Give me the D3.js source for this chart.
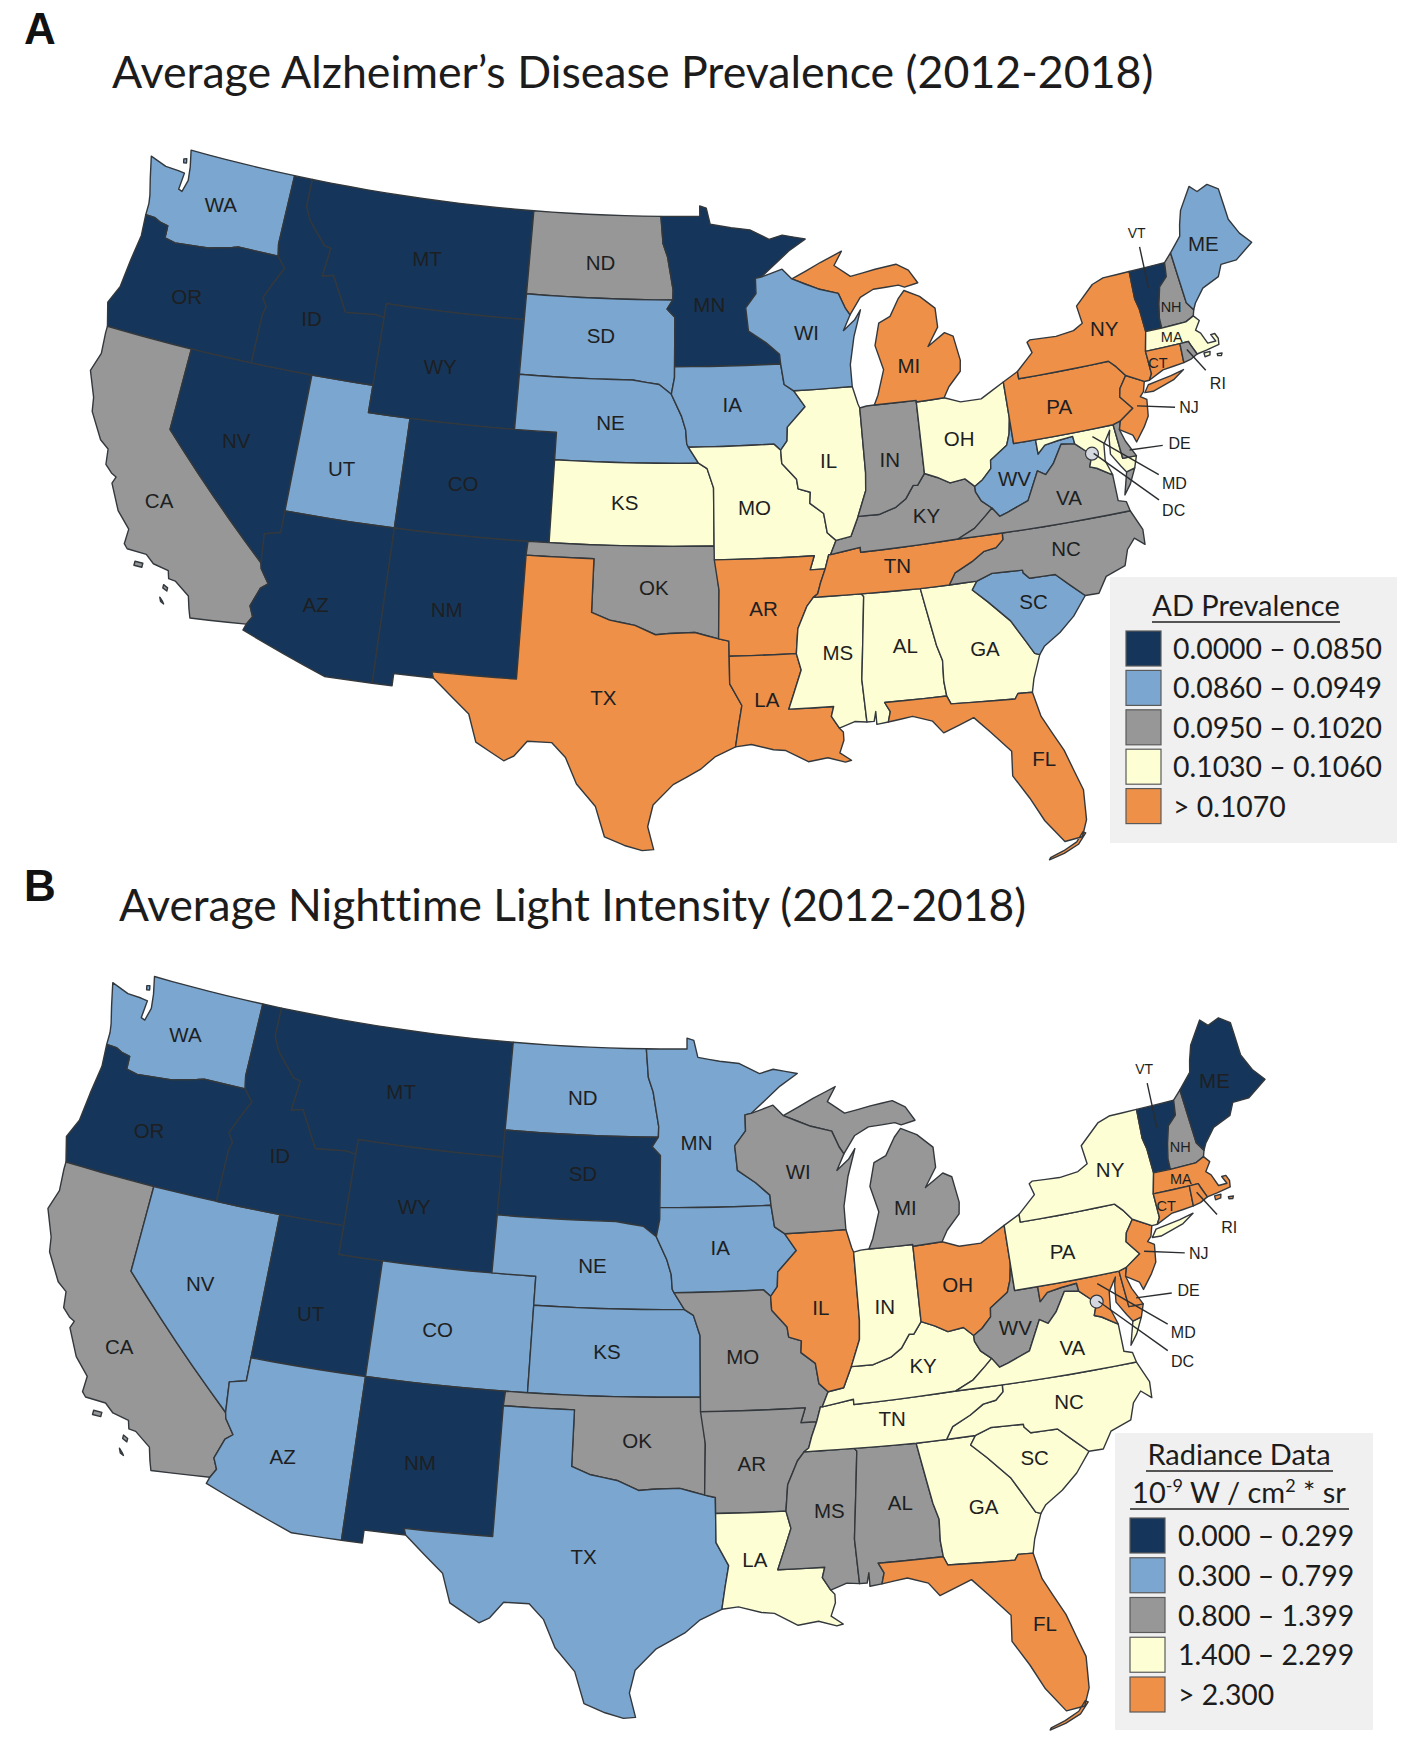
<!DOCTYPE html>
<html><head><meta charset="utf-8">
<script src="https://cdn.jsdelivr.net/npm/d3@7"></script>
<style>html,body{margin:0;padding:0;background:#fff}svg{display:block}text{font-variant-ligatures:none}</style>
</head><body><svg id="c" width="1410" height="1740"></svg>
<script>
// ---- categories / class values ----
const classColors = ["#15365a","#7ba6cf","#979797","#fefed5","#ee9048"];
const classA = {OR:0,ID:0,MT:0,WY:0,CO:0,NV:0,AZ:0,NM:0,MN:0,VT:0,
  WA:1,SD:1,NE:1,UT:1,IA:1,WI:1,ME:1,WV:1,SC:1,
  CA:2,ND:2,OK:2,IN:2,KY:2,VA:2,NC:2,NH:2,DE:2,RI:2,
  KS:3,MO:3,IL:3,OH:3,MS:3,AL:3,GA:3,MA:3,MD:3,
  TX:4,AR:4,LA:4,TN:4,FL:4,MI:4,NY:4,PA:4,NJ:4,CT:4};
const classB = {OR:0,ID:0,MT:0,WY:0,SD:0,UT:0,NM:0,VT:0,ME:0,
  WA:1,ND:1,MN:1,NE:1,IA:1,CO:1,KS:1,NV:1,AZ:1,TX:1,
  CA:2,WI:2,MI:2,MO:2,OK:2,AR:2,MS:2,AL:2,WV:2,NH:2,
  LA:3,IN:3,KY:3,TN:3,GA:3,SC:3,NC:3,VA:3,NY:3,PA:3,
  IL:4,OH:4,FL:4,NJ:4,MD:4,DE:4,MA:4,CT:4,RI:4};
const legendA = ["0.0000 – 0.0850","0.0860 – 0.0949","0.0950 – 0.1020","0.1030 – 0.1060","> 0.1070"];
const legendB = ["0.000 – 0.299","0.300 – 0.799","0.800 – 1.399","1.400 – 2.299","> 2.300"];

// ---- shared borders (lon,lat) ----
const A = {
 columbia:[[-116.92,45.99],[-118.98,46],[-119.3,45.93],[-120.5,45.7],[-121.2,45.65],[-122.2,45.57],[-122.76,45.65],[-122.8,46.1],[-123.2,46.15],[-123.55,46.26],[-124.05,46.27]],
 snake:[[-116.92,45.99],[-116.46,45.6],[-116.85,45],[-117.2,44.4],[-116.93,44.1],[-117.03,43.8],[-117.03,42]],
 bitter:[[-116.05,49],[-116.05,48],[-115.7,47.5],[-114.7,46.7],[-114.35,46.65],[-114.5,45.6],[-113.95,45.7],[-113.45,45.05],[-113,44.45],[-111.5,44.55],[-111.05,44.48]],
 coNV:[[-114.04,36.2],[-114.74,36.05],[-114.63,35]],
 coCA:[[-114.63,35],[-114.57,34.8],[-114.14,34.3],[-114.43,34.1],[-114.72,33.4],[-114.52,33.03],[-114.72,32.72]],
 red:[[-100,34.56],[-99.2,34.3],[-98.1,34.13],[-97.2,33.8],[-96.6,33.85],[-95.5,33.88],[-94.48,33.64]],
 redN:[[-97.23,49],[-97.1,48],[-96.85,47.5],[-96.55,46.3],[-96.56,45.93]],
 sdMN:[[-96.56,45.93],[-96.85,45.6],[-96.45,45.3],[-96.45,43.5]],
 moUp:[[-98.5,43],[-97.2,42.85],[-96.6,42.5]],
 iaSD:[[-96.45,43.5],[-96.45,43.1],[-96.6,42.5]],
 moNE:[[-96.6,42.5],[-96.1,41.7],[-95.9,41.2],[-95.85,40.7],[-95.77,40.58]],
 neMO:[[-95.77,40.58],[-95.3,40]],
 ksMO:[[-95.3,40],[-94.9,39.8],[-94.61,39.1],[-94.62,37]],
 mnWI:[[-92.3,46.66],[-92.3,46.1],[-92.85,45.6],[-92.75,44.75],[-91.9,44.3],[-91.25,43.85],[-91.22,43.5]],
 wiIA:[[-91.22,43.5],[-91.1,42.75],[-90.65,42.5]],
 ilIA:[[-90.65,42.5],[-90.15,41.9],[-91.05,41.2],[-91.1,40.7],[-91.42,40.38]],
 ilMO:[[-91.42,40.38],[-91.4,39.9],[-90.75,39.3],[-90.7,38.95],[-90.15,38.8],[-90.2,38.4],[-89.6,38],[-89.5,37.3],[-89.13,37]],
 kyMO:[[-89.13,37],[-89.42,36.5]],
 tnMO:[[-89.42,36.5],[-89.5,36.5],[-89.7,36]],
 tnAR:[[-89.7,36],[-89.95,35.5],[-90.1,35.12],[-90.3,35]],
 msAR:[[-90.3,35],[-90.6,34.7],[-91.05,33.9],[-91.17,33]],
 msLA:[[-91.17,33],[-91,32.4],[-91.6,31],[-89.73,31],[-89.85,30.65],[-89.55,30.2]],
 arMO:[[-90.15,36.5],[-90.37,36],[-89.7,36]],
 msAL:[[-88.2,35],[-88.1,34.9],[-88.47,31.9],[-88.4,30.35]],
 alGA:[[-85.6,34.98],[-85.18,32.87],[-85,32.3],[-85.05,31.55],[-85,31]],
 alFL:[[-85,31],[-87.6,31],[-87.4,30.65],[-87.52,30.28]],
 gaFL:[[-85,31],[-84.86,30.7],[-82.2,30.57],[-82.05,30.75],[-81.45,30.72]],
 sav:[[-83.1,35],[-83.35,34.7],[-82.75,34.2],[-81.9,33.4],[-81.4,32.6],[-81.1,32.1],[-80.9,32.03]],
 ncSC:[[-83.1,35],[-82.4,35.2],[-81.05,35.15],[-81.04,35.05],[-80.8,34.82],[-79.67,34.8],[-78.55,33.86]],
 ncTN:[[-84.32,34.99],[-84,35.4],[-83.2,35.72],[-82.6,36.03],[-82.05,36.1],[-81.7,36.35],[-81.68,36.59]],
 ohKY:[[-82.6,38.4],[-83,38.72],[-83.7,38.65],[-84.25,38.9],[-84.82,39.1]],
 inKY:[[-84.82,39.1],[-85.2,38.7],[-85.4,38.72],[-85.8,38.27],[-86.3,38],[-87.1,37.8],[-88.05,37.8]],
 ilKY:[[-88.05,37.8],[-88.45,37.1],[-89.13,37]],
 ilIN:[[-87.53,41.7],[-87.53,39.35],[-87.6,38.7],[-88.05,37.8]],
 vaKY:[[-83.68,36.6],[-82.88,36.9],[-82.3,37.3],[-81.97,37.54]],
 wvKY:[[-81.97,37.54],[-82.4,37.85],[-82.6,38.2],[-82.6,38.4]],
 wvOH:[[-82.6,38.4],[-82.2,38.6],[-81.75,38.95],[-81.7,39.25],[-80.85,39.7],[-80.65,40.1],[-80.52,40.64]],
 wvVA:[[-81.97,37.54],[-81.68,37.2],[-81.3,37.3],[-80.3,37.6],[-79.65,38.6],[-79.3,38.42],[-78.87,38.76],[-78.35,39.4],[-77.72,39.32]],
 wvMD:[[-79.48,39.72],[-79.48,39.2],[-79.1,39.47],[-78.45,39.55],[-77.75,39.6],[-77.72,39.32]],
 vaMD:[[-77.72,39.32],[-77.3,39],[-77.05,38.8],[-77.25,38.4],[-76.95,38.3],[-76.3,37.95]],
 paNJ:[[-74.7,41.36],[-75.1,40.95],[-75.2,40.65],[-74.72,40.15],[-75.42,39.8]],
 nyPA:[[-79.76,42.27],[-79.76,42],[-75.35,42],[-75.05,41.75],[-74.7,41.36]],
 vtNY:[[-73.26,42.75],[-73.3,43.6],[-73.4,44],[-73.34,45.01]],
 vtNH:[[-71.5,45.01],[-71.6,44.5],[-72.05,44.2],[-72.3,43.6],[-72.45,43.1],[-72.46,42.73]],
 wiMI:[[-90.42,46.57],[-89.1,46.14],[-88.1,45.92],[-87.8,45.35],[-87.6,45.1]],
 deMD:[[-75.79,39.72],[-75.69,38.46],[-75.05,38.45]]
};
// ---- state outlines: shared border names ("-" reversed) and coast points ----
const states = {
 WA:[[[-124.7,48.38],[-123.8,48.17],[-123.1,48.15],[-122.75,48.12],[-122.8,47.5],[-122.6,47.45],[-122.45,47.9],[-122.55,48.4],[-122.76,49],[-117.03,49],[-117.04,46.42]],"columbia",[[-124.07,46.7],[-124.15,47],[-124.4,47.6]]],
 OR:["columbia",[[-123.95,45.5],[-124.1,44.5],[-124.2,43.5],[-124.55,42.84],[-124.21,42]],"-snake"],
 CA:[[[-124.21,42],[-120,42],[-120,39]],"coCA",[[-117.12,32.53],[-117.25,32.85],[-117.4,33.3],[-118.1,33.72],[-118.4,33.75],[-118.5,34.03],[-119.2,34.15],[-119.6,34.42],[-120.47,34.45],[-120.65,34.6],[-120.63,35.15],[-121.3,35.7],[-121.9,36.6],[-121.8,36.85],[-122.05,36.95],[-122.4,37.2],[-122.5,37.75],[-122.95,38],[-123.7,38.9],[-123.83,39.4],[-124.35,40.3],[-124.1,41],[-124.2,41.75]]],
 NV:[[[-120,42],[-114.04,42]],"coNV",[[-120,39]]],
 UT:[[[-114.04,42],[-111.05,42],[-111.05,41],[-109.05,41],[-109.05,37],[-114.04,37]]],
 AZ:[[[-114.04,37],[-109.05,37],[-109.05,31.33],[-111.07,31.33],[-114.81,32.49]],"-coCA","-coNV"],
 ID:[[[-117.03,49]],"bitter",[[-111.05,42]],"-snake",[[-117.04,46.42]]],
 MT:[[[-116.05,49],[-104.05,49],[-104.05,45],[-111.05,45]],"-bitter"],
 WY:[[[-111.05,45],[-104.05,45],[-104.05,41],[-111.05,41]]],
 CO:[[[-109.05,41],[-102.05,41],[-102.05,37],[-109.05,37]]],
 NM:[[[-109.05,37],[-103,37],[-103.04,36.5],[-103.04,32],[-106.62,32],[-106.53,31.78],[-108.21,31.78],[-108.21,31.33],[-109.05,31.33]]],
 ND:[[[-104.05,49]],"redN",[[-104.05,45.94]]],
 SD:[[[-104.05,45.94]],"sdMN","iaSD","-moUp",[[-104.05,43]]],
 NE:[[[-104.05,43]],"moUp","moNE","neMO",[[-102.05,40],[-102.05,41],[-104.05,41]]],
 KS:[[[-102.05,40]],"ksMO",[[-102.05,37]]],
 OK:[[[-103,37],[-94.62,37],[-94.43,35.4]],"-red",[[-100,36.5],[-103.04,36.5]]],
 TX:[[[-103.04,36.5],[-100,36.5]],"red",[[-94.04,33.55],[-94.04,32],[-93.55,31.2],[-93.7,30.5],[-93.85,29.7],[-94.7,29.35],[-95.3,28.9],[-96.4,28.35],[-97.2,27.6],[-97.4,26.8],[-97.15,25.96],[-97.6,25.92],[-98.3,26.1],[-99.1,26.4],[-99.5,27.5],[-100.3,28.3],[-100.8,29.25],[-101.4,29.77],[-102.4,29.77],[-102.9,29.2],[-103.3,29],[-104.5,29.6],[-104.9,30.6],[-106.53,31.78],[-106.62,32],[-103.04,32]]],
 MN:[[[-97.23,49],[-95.15,49],[-95.15,49.38],[-94.8,49.3],[-94.6,48.7],[-93.5,48.55],[-92.5,48.45],[-91.5,48.07],[-90.8,48.2],[-89.6,48],[-90.5,47.6],[-92,46.7]],"mnWI",[[-96.45,43.5]],"-sdMN","-redN"],
 IA:[[[-96.45,43.5],[-91.22,43.5]],"wiIA","ilIA",[[-91.73,40.61],[-95.77,40.58]],"-moNE",[[-96.45,43.1]]],
 MO:[[[-95.77,40.58],[-91.73,40.61]],"ilMO","kyMO","tnMO","-arMO",[[-94.62,36.5]],"-ksMO","-neMO"],
 AR:[[[-94.62,36.5]],"arMO","tnAR","msAR",[[-94.04,33],[-94.04,33.55],[-94.48,33.64],[-94.43,35.4]]],
 LA:[[[-94.04,33]],"msLA",[[-89.4,30.05],[-89.4,29.75],[-89.6,29.3],[-89.15,29],[-89.4,28.95],[-90.1,29.15],[-90.9,29.05],[-91.8,29.5],[-92.3,29.55],[-93.2,29.77],[-93.85,29.7],[-93.7,30.5],[-93.55,31.2],[-94.04,32]]],
 MS:[[[-90.3,35]],"msAL",[[-88.9,30.4]],"-msLA","-msAR"],
 AL:[[[-88.2,35]],"alGA","alFL",[[-88,30.23],[-88,30.7],[-88.1,30.35]],"-msAL"],
 GA:[[[-85.6,34.98]],"sav",[[-81.3,31.2]],"-gaFL","-alGA"],
 FL:["-alFL","gaFL",[[-81.25,29.8],[-80.55,28.45],[-80.05,26.9],[-80.13,25.8],[-80.4,25.2],[-81.1,25.13],[-81.75,26],[-82.2,26.9],[-82.75,27.8],[-82.65,28.7],[-83.4,29.5],[-84,30.1],[-85.3,29.68],[-85.7,30.15],[-86.5,30.4]]],
 SC:["ncSC",[[-79.2,33.2],[-79.9,32.7],[-80.65,32.3]],"-sav"],
 NC:["ncTN",[[-75.87,36.55],[-75.5,35.8],[-75.55,35.25],[-75.95,35.55],[-76.35,35.2],[-76.6,34.65],[-77.5,34.4],[-77.95,33.85]],"-ncSC"],
 TN:[[[-90.3,35],[-88.2,35],[-85.6,34.98]],"ncTN",[[-83.68,36.6],[-88.07,36.5],[-88.07,36.68]],"tnMO","tnAR"],
 KY:[[[-89.42,36.5],[-88.07,36.68],[-88.07,36.5]],"vaKY","wvKY","ohKY","inKY","ilKY","kyMO"],
 IL:[[[-90.65,42.5],[-87.8,42.5],[-87.6,41.85]],"ilIN","ilKY","-ilMO","-ilIA"],
 IN:[[[-87.53,41.7],[-87.2,41.75],[-86.82,41.76],[-84.8,41.76],[-84.8,41.7],[-84.82,39.1]],"inKY","-ilIN"],
 OH:[[[-84.8,41.7],[-83.45,41.73],[-82.7,41.5],[-81.7,41.5],[-80.52,41.98]],"-wvOH","ohKY"],
 WV:["wvKY","wvOH",[[-80.52,39.72]],"wvMD","-wvVA"],
 VA:[[[-83.68,36.6],[-81.68,36.59],[-75.87,36.55],[-75.95,36.9],[-76.3,37],[-76.3,37.5]],"-vaMD","-wvVA","-vaKY"],
 MD:[[[-79.48,39.72]],"deMD",[[-75.25,38.03],[-75.65,37.95],[-75.85,38.2],[-76.2,38.7],[-76.1,39.3],[-76,39.55],[-76.4,39.1],[-76.5,38.5],[-76.35,38.1]],"-vaMD","-wvMD"],
 DE:[[[-75.79,39.72],[-75.42,39.8],[-75.55,39.5],[-75.4,39.05],[-75.05,38.45],[-75.69,38.46]]],
 PA:[[[-80.52,41.98]],"nyPA","paNJ",[[-75.79,39.72],[-80.52,39.72]]],
 NJ:["paNJ",[[-75.55,39.5],[-75,39.2],[-74.9,38.93],[-74.4,39.4],[-74.1,39.75],[-73.98,40.35],[-74.25,40.5],[-74.05,40.65],[-73.9,41]]],
 NY:["nyPA",[[-73.9,41],[-73.65,41],[-73.48,41.21],[-73.5,42.05]],"vtNY",[[-74.7,45],[-75.3,44.85],[-76.3,44.2],[-76.2,43.55],[-76.7,43.35],[-77.6,43.27],[-78.9,43.32],[-79.05,43.25],[-78.9,42.85]]],
 VT:["vtNY",[[-71.5,45.01]],"vtNH"],
 NH:["vtNH",[[-71.25,42.73],[-70.82,42.87],[-70.72,43.08],[-70.98,43.4],[-71.08,45.3]]],
 ME:[[[-71.08,45.3],[-70.4,45.8],[-70.25,46.2],[-70,46.7],[-69.23,47.46],[-68.9,47.2],[-68.3,47.35],[-67.8,47.07],[-67.78,45.9],[-67.45,45.3],[-67,44.85],[-68,44.4],[-68.8,44.4],[-69.1,44],[-70,43.75],[-70.55,43.3],[-70.72,43.08],[-70.98,43.4]]],
 MA:[[[-73.5,42.05],[-71.8,42.02],[-71.38,42.02],[-71.33,41.9],[-71.13,41.5],[-70.65,41.55],[-70,41.63],[-69.95,41.85],[-70.05,42.05],[-70.25,42.05],[-70.1,41.78],[-70.5,41.78],[-70.7,42.2],[-70.9,42.35],[-70.6,42.65],[-70.82,42.87],[-71.25,42.73],[-72.46,42.73],[-73.26,42.75]]],
 CT:[[[-73.5,42.05],[-71.8,42.02],[-71.85,41.32],[-72.9,41.25],[-73.65,41],[-73.48,41.21]]],
 RI:[[[-71.8,42.02],[-71.38,42.02],[-71.33,41.9],[-71.13,41.5],[-71.5,41.37],[-71.85,41.32]]],
 MI:[[[-86.82,41.76],[-84.8,41.76],[-84.8,41.7],[-83.45,41.73],[-83.15,42.1],[-82.5,42.6],[-82.42,43],[-82.6,43.9],[-83,44.07],[-83.9,43.65],[-83.3,44.3],[-83.3,45],[-84,45.5],[-84.75,45.78],[-85.1,45.5],[-85.6,44.9],[-86.2,44.7],[-86.5,43.9],[-86.2,43],[-86.6,42.1]]],
 WI:[[[-92.3,46.66],[-92,46.7],[-90.9,46.95]],"wiMI",[[-88,44.55],[-87.4,44.9],[-87.05,45.25],[-87.5,44.3],[-87.8,43.3],[-87.8,42.5]],"-wiIA","-mnWI"]
};
// extra rings (islands, upper Michigan, Long Island, Virginia's eastern shore)
const extraRings = {
 MI:[[[-90.42,46.57],[-89.1,46.14],[-88.1,45.92],[-87.8,45.35],[-87.6,45.1],[-87,45.7],[-86.3,45.95],[-85,46],[-84.7,45.9],[-84,46],[-84.4,46.5],[-85,46.77],[-86.1,46.67],[-87.4,46.5],[-88.2,46.95],[-87.75,47.45],[-88.9,47.1]]],
 NY:[[[-74,40.6],[-73.75,40.85],[-72.6,40.98],[-71.95,41.08],[-72.5,40.82],[-73.6,40.58]]],
 VA:[[[-75.95,37.15],[-75.65,37.95],[-75.25,38.03],[-75.6,37.5]]],
 CA:[[[-120,34.08],[-119.65,34.08],[-119.65,33.93],[-120,33.93]],[[-118.55,33.5],[-118.35,33.42],[-118.35,33.3],[-118.55,33.38]],[[-118.58,33.03],[-118.42,32.9],[-118.35,32.82],[-118.5,32.88]]],
 MA:[[[-70.8,41.47],[-70.5,41.47],[-70.55,41.35],[-70.8,41.33]],[[-70.2,41.32],[-69.97,41.3],[-70.03,41.22],[-70.2,41.25]]],
 FL:[[[-80.25,25.32],[-80.6,24.95],[-81.2,24.7],[-81.8,24.55],[-81.75,24.62],[-81.2,24.8],[-80.65,25.05],[-80.35,25.38]]],
 WA:[[[-123.0,48.62],[-122.85,48.65],[-122.8,48.5],[-122.95,48.48]]]
};
// label anchors in lon,lat
const labelAt = {WA:[-120.45,47.35],OR:[-120.9,43.8],CA:[-119.65,36.4],NV:[-116.9,39.15],ID:[-114.6,44],MT:[-109.35,46.85],WY:[-107.95,43],UT:[-111.85,38.85],CO:[-106.2,38.9],AZ:[-111.95,33.85],NM:[-106.3,34.3],ND:[-100.35,47.25],SD:[-100.15,44.6],NE:[-99.5,41.45],KS:[-98.7,38.55],OK:[-97.3,35.5],TX:[-99.35,31.5],MN:[-94.7,45.75],IA:[-93.65,42.1],MO:[-92.75,38.35],AR:[-92.5,34.7],LA:[-92.5,31.4],WI:[-89.85,44.6],IL:[-89.2,39.9],IN:[-86.35,39.75],MI:[-84.95,43.05],OH:[-83,40.2],KY:[-84.95,37.6],TN:[-86.5,35.9],MS:[-89.4,32.95],AL:[-86.5,33],GA:[-83.15,32.55],FL:[-81.4,28.25],SC:[-80.8,33.95],NC:[-79,35.65],VA:[-78.45,37.45],WV:[-80.75,38.45],PA:[-78.1,40.75],NY:[-75.2,43.2],ME:[-69.35,45.3]};
const smallLabelAt = {NH:[-71.75,43.4],MA:[-72.1,42.33],CT:[-73.05,41.55]};
// leader labels: anchor lon,lat; then label offset from anchor
const leaders = [
 {id:"VT",at:[-72.6,44.25],dx:-12,dy:-55},
 {id:"RI",at:[-71.55,41.75],dx:31,dy:34},
 {id:"NJ",at:[-74.5,40.2],dx:52,dy:2},
 {id:"DE",at:[-75.3,38.7],dx:50,dy:-7},
 {id:"MD",at:[-76.85,39.45],dx:82,dy:47},
 {id:"DC",at:[-76.95,38.85],dx:80,dy:57}
];
const dcAt = [-77.03,38.85];
// calibration of each map's placement: lon, lat, page x, page y
const calibA = [[-117.03,49,297,176.5],[-124.7,48.38,151,155],[-124.21,42,108,330],[-120,39,173,427],[-120,42,193,351],[-109.05,37,393,533],[-102.05,41,555,436],[-109.05,31.33,373,685],[-114.81,32.49,247,621],[-97.15,25.96,652,857],[-106.53,31.78,432,674],[-95.15,49.38,700,206],[-97.23,49,661,217.5],[-94.62,37,710,550],[-89.55,30.2,841,721],[-80.4,25.2,1084,838],[-81.45,30.72,1034,694],[-75.5,35.25,1147,535.5],[-80.52,41.98,1003,383],[-67,44.85,1248,244],[-69.23,47.46,1208,188],[-73.34,45.01,1128,273],[-70,41.8,1215,343],[-84,46,922,286],[-87.75,47.45,820,234],[-87.8,42.5,850,391]];
const calibB = [[-117.03,49,262.6,1004],[-124.7,48.38,109.7,984.6],[-124.21,42,67.4,1165.8],[-120,39,132,1275],[-120,42,157,1188],[-109.05,37,366,1379],[-102.05,41,535,1278],[-109.05,31.33,346,1530.6],[-114.81,32.49,208.6,1480],[-97.15,25.96,629.5,1718.6],[-106.53,31.78,406.5,1530.6],[-95.15,49.38,685,1037],[-97.23,49,644,1048],[-94.62,37,700,1399],[-89.55,30.2,832,1589.5],[-80.4,25.2,1084,1710],[-81.45,30.72,1034,1556],[-75.5,35.25,1154,1399],[-80.52,41.98,1004.5,1225],[-67,44.85,1259,1082],[-69.23,47.46,1218.5,1017],[-73.34,45.01,1135,1107],[-70,41.8,1227,1182],[-84,46,917,1118],[-87.75,47.45,823,1084],[-87.8,42.5,845,1230]];

const svg = d3.select("#c");
const color = d3.scaleOrdinal(d3.range(5), classColors);

function densify(ring){
  const out=[];
  ring.forEach((p,i)=>{
    const q=ring[(i+1)%ring.length];
    const n=Math.max(1,Math.ceil(Math.max(Math.abs(q[0]-p[0]),Math.abs(q[1]-p[1]))));
    for(let k=0;k<n;k++) out.push([p[0]+(q[0]-p[0])*k/n,p[1]+(q[1]-p[1])*k/n]);
  });
  return out;
}
function buildRing(parts){
  let pts=[];
  parts.forEach(s=>{
    let seg;
    if(typeof s==="string"){ seg = s[0]==="-" ? A[s.slice(1)].slice().reverse() : A[s]; }
    else seg=s;
    seg.forEach(p=>{const l=pts[pts.length-1]; if(!l||l[0]!==p[0]||l[1]!==p[1]) pts.push(p);});
  });
  const a=pts[0],b=pts[pts.length-1];
  if(a[0]===b[0]&&a[1]===b[1]) pts.pop();
  return pts;
}
function closedPoly(r){
  const d=densify(r); d.push(d[0]);
  let poly=[d];
  if(d3.geoArea({type:"Polygon",coordinates:poly})>Math.PI*2) poly=[d.slice().reverse()];
  return poly;
}
const features = Object.keys(states).map(id=>{
  const rings=[buildRing(states[id])].concat(extraRings[id]||[]);
  return {type:"Feature",id,geometry:{type:"MultiPolygon",coordinates:rings.map(closedPoly)}};
});

// least squares affine placement from the calibration table
function solve3(M,v){
  const a=M.map((r,i)=>r.concat(v[i]));
  for(let i=0;i<3;i++){
    let m=i; for(let j=i+1;j<3;j++) if(Math.abs(a[j][i])>Math.abs(a[m][i])) m=j;
    [a[i],a[m]]=[a[m],a[i]];
    for(let j=0;j<3;j++) if(j!==i){const f=a[j][i]/a[i][i]; for(let k=i;k<4;k++) a[j][k]-=f*a[i][k];}
  }
  return [a[0][3]/a[0][0],a[1][3]/a[1][1],a[2][3]/a[2][2]];
}
function makeProjection(calib){
  const base=d3.geoConicEqualArea().parallels([29.5,45.5]).rotate([96,0]).center([0,38]).scale(1000).translate([0,0]).precision(.3);
  const P=calib.map(c=>base([c[0],c[1]]));
  const M=[[0,0,0],[0,0,0],[0,0,0]],vx=[0,0,0],vy=[0,0,0];
  P.forEach((p,i)=>{const r=[p[0],p[1],1];
    for(let a=0;a<3;a++){for(let b=0;b<3;b++)M[a][b]+=r[a]*r[b];vx[a]+=r[a]*calib[i][2];vy[a]+=r[a]*calib[i][3];}});
  const ax=solve3(M,vx),ay=solve3(M,vy);
  const tf=d3.geoTransform({point(x,y){this.stream.point(ax[0]*x+ax[1]*y+ax[2],ay[0]*x+ay[1]*y+ay[2]);}});
  const fn=ll=>{const p=base(ll);return [ax[0]*p[0]+ax[1]*p[1]+ax[2],ay[0]*p[0]+ay[1]*p[1]+ay[2]];};
  fn.stream=s=>base.stream(tf.stream(s));
  return fn;
}

function drawMap(cfg){
  const proj=makeProjection(cfg.calib);
  const path=d3.geoPath({stream:proj.stream});
  const k=cfg.k;
  const g=svg.append("g");
  g.selectAll("path.st").data(features).join("path").attr("class","st")
    .attr("d",path).attr("fill",d=>color(cfg.cls[d.id]))
    .attr("stroke","#33383d").attr("stroke-width",1.4).attr("stroke-linejoin","round");
  const put=(t,p,size)=>g.append("text").attr("x",p[0]).attr("y",p[1]).attr("text-anchor","middle")
    .attr("dominant-baseline","central").attr("font-family","Liberation Sans, Arial, sans-serif")
    .attr("font-size",size).attr("fill","#1d1f22").text(t);
  Object.entries(labelAt).forEach(([id,ll])=>put(id,proj(ll),20.5));
  Object.entries(smallLabelAt).forEach(([id,ll])=>put(id,proj(ll),14.5));
  // DC marker
  const dc=proj(dcAt);
  g.append("circle").attr("cx",dc[0]).attr("cy",dc[1]).attr("r",6.5).attr("fill","#d5d8df").attr("stroke","#33383d").attr("stroke-width",1.2);
  leaders.forEach(l=>{
    const p=proj(l.at);
    const tx=p[0]+l.dx*k, ty=p[1]+l.dy*k;
    const len=Math.hypot(l.dx,l.dy)*k, ux=l.dx*k/len, uy=l.dy*k/len;
    const gap=l.id==="NJ"||l.id==="VT"?14:(l.id==="DE"?17:18);
    g.append("line").attr("x1",p[0]).attr("y1",p[1]).attr("x2",tx-ux*gap).attr("y2",ty-uy*gap)
      .attr("stroke","#2a2d30").attr("stroke-width",1.4);
    put(l.id,[tx,ty],l.id==="VT"?14:16);
  });
  // titles
  svg.append("text").attr("x",cfg.letter[0]).attr("y",cfg.letter[1]).attr("font-family","Liberation Sans, Arial, sans-serif")
    .attr("font-weight","bold").attr("font-size",44).attr("fill","#111").text(cfg.tag);
  svg.append("text").attr("x",cfg.title[0]).attr("y",cfg.title[1]).attr("font-family","Lato, Carlito, sans-serif")
    .attr("font-size",cfg.titleSize).attr("fill","#1c1c1c").text(cfg.titleText);
  // legend
  const L=cfg.legend;
  const lg=svg.append("g");
  lg.append("rect").attr("x",L.x).attr("y",L.y).attr("width",L.w).attr("height",L.h).attr("fill","#f0f0f0");
  const lf="Lato, Carlito, sans-serif";
  L.heads.forEach(h=>{
    const t=lg.append("text").attr("x",h.cx).attr("y",h.y).attr("text-anchor","middle").attr("font-family",lf)
      .attr("font-size",29).attr("fill","#1c1c1c");
    h.parts.forEach(q=>{
      const s=t.append("tspan").text(q.t);
      if(q.sup){ s.attr("font-size",18).attr("dy",-11); }
      else if(q.after){ s.attr("dy",11); }
    });
    lg.append("line").attr("x1",h.x1).attr("x2",h.x2).attr("y1",h.y+6).attr("y2",h.y+6).attr("stroke","#222").attr("stroke-width",1.6);
  });
  cfg.labels.forEach((txt,i)=>{
    lg.append("rect").attr("x",L.sx).attr("y",L.sy+i*L.step).attr("width",35).attr("height",35)
      .attr("fill",color(i)).attr("stroke","#5a5a5a").attr("stroke-width",1.2);
    lg.append("text").attr("x",L.tx).attr("y",L.sy+28+i*L.step).attr("font-family",lf).attr("font-size",28.4).attr("fill","#1c1c1c").text(txt);
  });
}
drawMap({cls:classA,calib:calibA,k:1,tag:"A",letter:[24,44],title:[112,88],titleSize:44.7,
 titleText:"Average Alzheimer’s Disease Prevalence (2012-2018)",labels:legendA,
 legend:{x:1110,y:577,w:287,h:266,sx:1126,sy:631,step:39.4,tx:1173,
  heads:[{cx:1246,y:616,x1:1152,x2:1340,parts:[{t:"AD Prevalence"}]}]}});
drawMap({cls:classB,calib:calibB,k:1.05,tag:"B",letter:[24,901],title:[119,921],titleSize:44.3,
 titleText:"Average Nighttime Light Intensity (2012-2018)",labels:legendB,
 legend:{x:1115,y:1433,w:258,h:297,sx:1130,sy:1518,step:39.75,tx:1178,
  heads:[{cx:1239,y:1465,x1:1146,x2:1333,parts:[{t:"Radiance Data"}]},
         {cx:1239,y:1503,x1:1130,x2:1349,parts:[{t:"10"},{t:"-9",sup:true},{t:" W / cm",after:true},{t:"2",sup:true},{t:" * sr",after:true}]}]}});
</script></body></html>
